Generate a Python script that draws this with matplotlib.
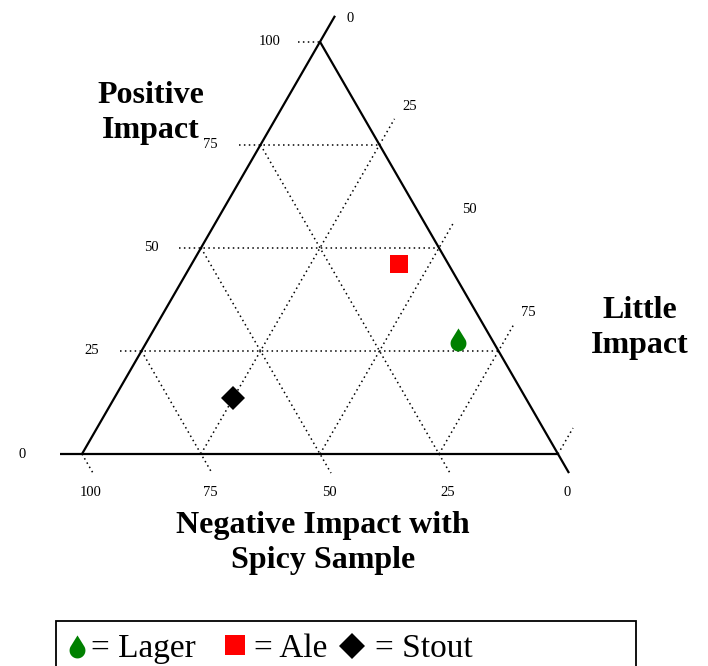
import numpy as np
import matplotlib
matplotlib.use("Agg")
import matplotlib.pyplot as plt
from matplotlib.path import Path
from matplotlib.patches import Rectangle
from matplotlib.lines import Line2D

plt.rcParams["font.family"] = ["Liberation Serif", "DejaVu Serif"]

# data (percent on each axis)
beers = ["Lager", "Ale", "Stout"]
positive = [27, 46, 13.5]
negative = [7.5, 10.5, 61.5]
little = [65.5, 43.5, 25]
ticks = [0, 25, 50, 75, 100]


def tern(p, n, l):
    # positive -> top corner, negative -> bottom left, little -> bottom right
    p = np.asarray(p, dtype=float)
    n = np.asarray(n, dtype=float)
    l = np.asarray(l, dtype=float)
    tot = p + n + l
    p, l = p / tot, l / tot
    return l + p / 2.0, p * np.sqrt(3) / 2.0


# teardrop marker for lager
d = 1.9
ty = 1 / d
tx = np.sqrt(1 - ty ** 2)
a0 = np.arctan2(ty, tx)
ang = np.linspace(a0, -np.pi - a0, 60)
verts = [(0, d)] + list(zip(np.cos(ang), np.sin(ang))) + [(0, d)]
codes = [Path.MOVETO] + [Path.LINETO] * len(ang) + [Path.CLOSEPOLY]
drop = Path(verts, codes)

styles = {
    "Lager": dict(marker=drop, ms=21.7, color="#008000"),
    "Ale": dict(marker="s", ms=13, color="#ff0000"),
    "Stout": dict(marker="D", ms=12.5, color="black"),
}

W, H = 708, 666
side = 476.0
px = 1 / side

fig = plt.figure(figsize=(W / 100, H / 100), dpi=100)
ax = fig.add_axes([0, 0, 1, 1])
ax.set_xlim(-82 / side, (W - 82) / side)
ax.set_ylim(-(H - 454) / side, 454 / side)
ax.axis("off")

r3 = np.sqrt(3) / 2
solid = dict(color="black", lw=1.6, solid_capstyle="butt")
dotted = dict(color="black", lw=1.1, linestyle=(0, (1, 2.2)))
lab = dict(ha="center", va="center", fontsize=10.5)

for v in ticks:
    st = solid if v == 0 else dotted
    # positive impact: horizontal lines, tick to the left
    x1, y1 = tern(v, 100 - v, 0)
    x2, y2 = tern(v, 0, 100 - v)
    ax.plot([x1 - 22 * px, x2], [y1, y2], **st)
    shift = 50 if v > 0 else 60
    ax.text(x1 - shift * px, y1, str(v), **lab)
    # little impact: parallel to left side, tick past the right side
    x1, y1 = tern(0, 100 - v, v)
    x2, y2 = tern(100 - v, 0, v)
    ex, ey = x2 + 30 * px * 0.5, y2 + 30 * px * r3
    ax.plot([x1, ex], [y1, ey], **st)
    if v < 100:
        lift = 12 if v > 0 else -3
        ax.text(ex + 15 * px, ey + lift * px, str(v), **lab)
    # negative impact: parallel to right side, tick under the base
    x1, y1 = tern(100 - v, v, 0)
    x2, y2 = tern(0, v, 100 - v)
    ex, ey = x2 + 22 * px * 0.5, y2 - 22 * px * r3
    ax.plot([x1, ex], [y1, ey], **st)
    ax.text(ex - 2 * px, ey - 19 * px, str(v), **lab)

xs, ys = tern(positive, negative, little)
for i, b in enumerate(beers):
    ax.plot(xs[i], ys[i], ls="none", mew=0, zorder=4, **styles[b])

title = dict(fontsize=23, fontweight="bold", ha="center", va="center",
             multialignment="center", linespacing=1.3)
fig.text(151 / W, 1 - 113 / H, "Positive\nImpact", **title)
fig.text(640 / W, 1 - 328 / H, "Little\nImpact", **title)
fig.text(323 / W, 1 - 543 / H, "Negative Impact with\nSpicy Sample", **title)

# legend box at the bottom (runs off the lower edge)
fig.add_artist(Rectangle((56 / W, 1 - 700 / H), (636 - 56) / W, 79 / H,
                         transform=fig.transFigure, fill=False,
                         edgecolor="black", lw=1.3))
leg_x = {"Lager": (77, 91), "Ale": (235, 254), "Stout": (352, 375)}
leg_y = {"Lager": 650, "Ale": 645, "Stout": 646}
leg_ms = {"Lager": 21.7, "Ale": 14.5, "Stout": 13.5}
for b in beers:
    mx, tx0 = leg_x[b]
    st = dict(styles[b])
    st["ms"] = leg_ms[b]
    fig.add_artist(Line2D([mx / W], [1 - leg_y[b] / H], transform=fig.transFigure,
                          ls="none", mew=0, **st))
    fig.text(tx0 / W, 1 - 657 / H, "= " + b, fontsize=24, ha="left", va="baseline")

fig.savefig("out.png", dpi=100)
